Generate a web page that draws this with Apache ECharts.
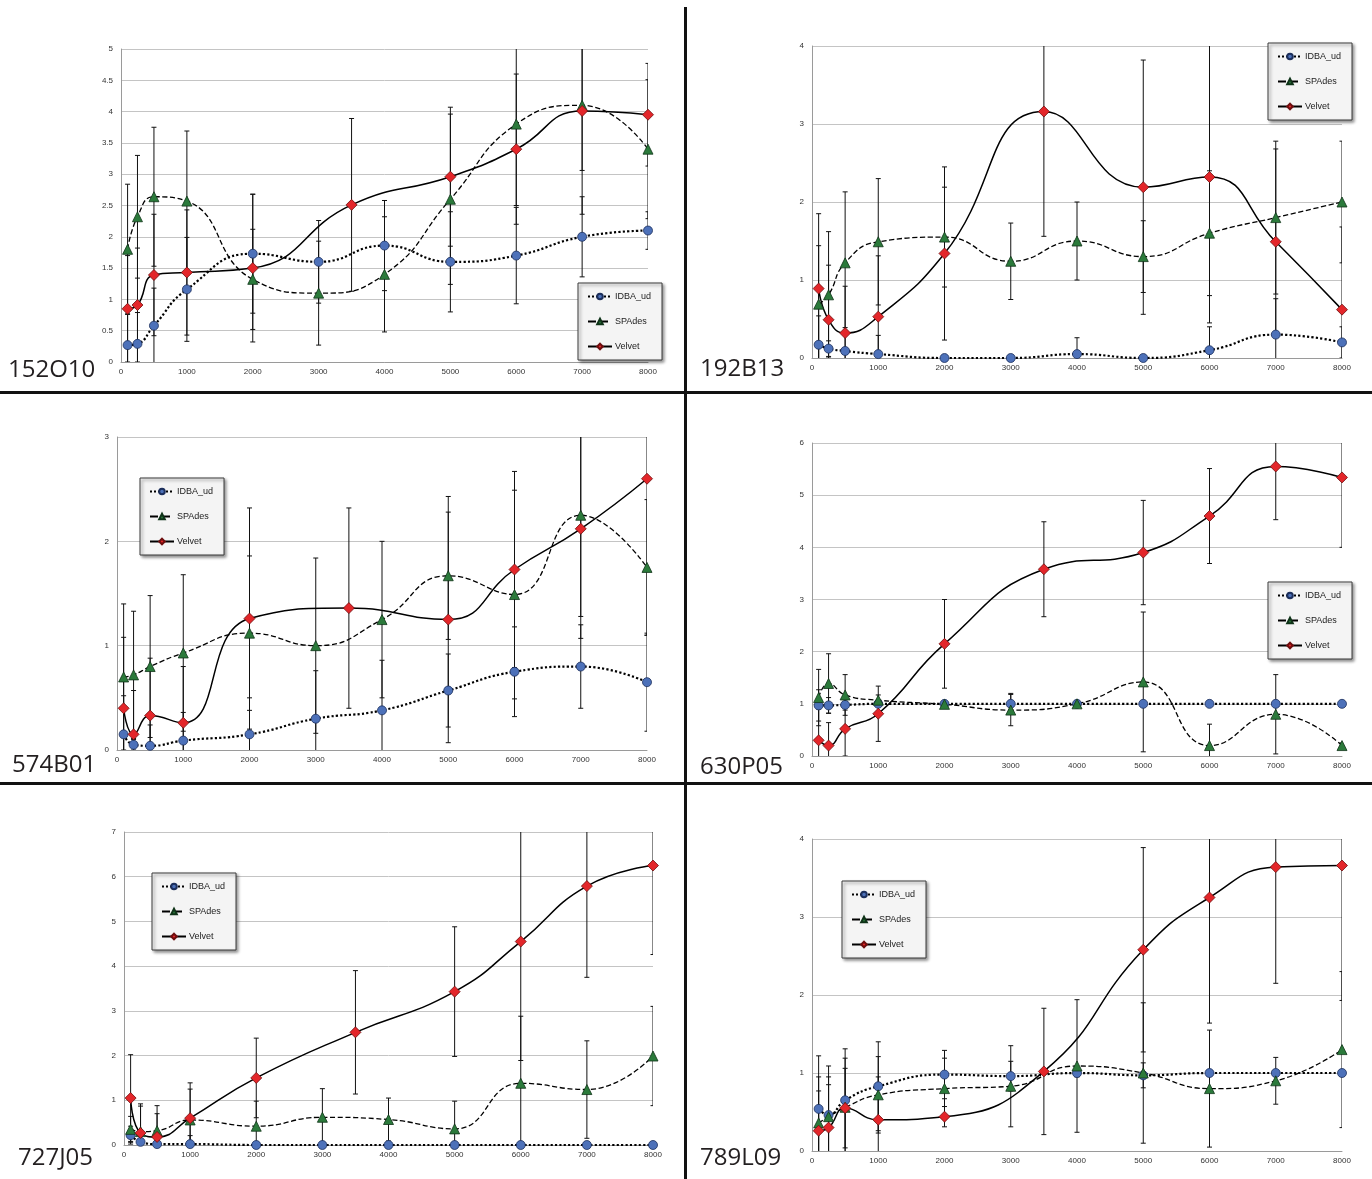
<!DOCTYPE html>
<html>
<head>
<meta charset="utf-8">
<title>Assembler comparison by read depth</title>
<script src="https://cdn.jsdelivr.net/npm/echarts@6/dist/echarts.min.js"></script>
<style>
  html, body { margin: 0; padding: 0; background: #ffffff; }
  #chart { width: 1372px; height: 1179px; }
</style>
</head>
<body>
<div id="chart"></div>
<script>
// Sampled depths (x positions). Velvet was run at 3500 instead of 3000/4000.
const depthsAB = [100, 250, 500, 1000, 2000, 3000, 4000, 5000, 6000, 7000, 8000];
const depthsVelvet = [100, 250, 500, 1000, 2000, 3500, 5000, 6000, 7000, 8000];
const seriesNames = ['IDBA_ud', 'SPAdes', 'Velvet'];

// 152O10
const idba_152O10 = [0.27, 0.29, 0.58, 1.16, 1.73, 1.60, 1.86, 1.60, 1.70, 2.00, 2.10];
const idbaErr_152O10 = [0.50, 0.50, 0.60, 0.83, 0.95, 0.66, 0.72, 0.80, 0.77, 0.64, 0.30];
const spades_152O10 = [1.80, 2.32, 2.64, 2.57, 1.32, 1.10, 1.40, 2.60, 3.80, 4.10, 3.40];
const spadesErr_152O10 = [1.04, 0.98, 1.11, 1.12, 0.80, 0.83, 0.92, 1.36, 1.30, 1.04, 1.11];
const velvet_152O10 = [0.85, 0.91, 1.39, 1.43, 1.50, 2.51, 2.96, 3.40, 4.01, 3.95];
const velvetErr_152O10 = [0.85, 0.91, 0.97, 1.00, 1.18, 1.38, 1.11, 1.20, 1.65, 0.82];

// 192B13
const idba_192B13 = [0.17, 0.12, 0.09, 0.05, 0.00, 0.00, 0.05, 0.00, 0.10, 0.30, 0.20];
const idbaErr_192B13 = [0.37, 0.10, 0.30, 0.24, 0.00, 0.00, 0.21, 0.00, 0.30, 0.46, 0.20];
const spades_192B13 = [0.69, 0.81, 1.22, 1.49, 1.55, 1.24, 1.50, 1.30, 1.60, 1.80, 2.00];
const spadesErr_192B13 = [0.75, 0.81, 0.91, 0.81, 0.64, 0.49, 0.50, 0.46, 0.80, 0.98, 0.78];
const velvet_192B13 = [0.89, 0.49, 0.32, 0.53, 1.34, 3.16, 2.19, 2.32, 1.49, 0.62];
const velvetErr_192B13 = [0.96, 0.70, 0.60, 0.78, 1.11, 1.60, 1.63, 1.87, 1.19, 1.06];

// 574B01
const idba_574B01 = [0.15, 0.05, 0.04, 0.09, 0.15, 0.30, 0.38, 0.57, 0.75, 0.80, 0.65];
const idbaErr_574B01 = [0.37, 0.05, 0.20, 0.27, 0.35, 0.46, 0.48, 0.35, 0.43, 0.40, 0.47];
const spades_574B01 = [0.70, 0.72, 0.80, 0.93, 1.12, 1.00, 1.25, 1.67, 1.49, 2.25, 1.75];
const spadesErr_574B01 = [0.70, 0.61, 0.68, 0.75, 0.74, 0.84, 0.75, 0.61, 1.00, 0.97, 0.65];
const velvet_574B01 = [0.40, 0.15, 0.33, 0.26, 1.26, 1.36, 1.25, 1.73, 2.12, 2.60];
const velvetErr_574B01 = [0.68, 0.42, 0.55, 0.54, 1.06, 0.96, 1.18, 0.94, 1.05, 1.50];

// 630P05
const idba_630P05 = [0.97, 0.97, 0.98, 1.00, 1.00, 1.00, 1.00, 1.00, 1.00, 1.00, 1.00];
const idbaErr_630P05 = [0.30, 0.15, 0.10, 0.05, 0.03, 0.20, 0.03, 0.00, 0.00, 0.00, 0.00];
const spades_630P05 = [1.12, 1.39, 1.17, 1.07, 0.99, 0.88, 1.00, 1.42, 0.20, 0.80, 0.20];
const spadesErr_630P05 = [0.54, 0.57, 0.39, 0.10, 0.05, 0.30, 0.05, 1.34, 0.41, 0.76, 0.05];
const velvet_630P05 = [0.30, 0.20, 0.52, 0.81, 2.15, 3.58, 3.90, 4.60, 5.55, 5.34];
const velvetErr_630P05 = [0.60, 0.44, 0.52, 0.53, 0.85, 0.91, 1.00, 0.91, 1.02, 1.34];

// 727J05
const idba_727J05 = [0.22, 0.07, 0.02, 0.02, 0.00, 0.00, 0.00, 0.00, 0.00, 0.00, 0.00];
const idbaErr_727J05 = [0.20, 0.05, 0.02, 0.19, 0.00, 0.00, 0.00, 0.00, 0.00, 0.00, 0.00];
const spades_727J05 = [0.35, 0.30, 0.32, 0.56, 0.42, 0.62, 0.57, 0.36, 1.38, 1.24, 1.99];
const spadesErr_727J05 = [0.29, 0.57, 0.56, 0.69, 0.56, 0.64, 0.48, 0.62, 1.50, 1.09, 1.11];
const velvet_727J05 = [1.05, 0.27, 0.18, 0.60, 1.50, 2.52, 3.43, 4.55, 5.79, 6.25];
const velvetErr_727J05 = [0.97, 0.65, 0.52, 0.79, 0.89, 1.38, 1.45, 2.66, 2.04, 1.99];

// 789L09
const idba_789L09 = [0.54, 0.46, 0.65, 0.83, 0.98, 0.96, 1.00, 0.97, 1.00, 1.00, 1.00];
const idbaErr_789L09 = [0.68, 0.63, 0.66, 0.57, 0.31, 0.19, 0.05, 0.16, 0.00, 0.00, 0.00];
const spades_789L09 = [0.36, 0.44, 0.56, 0.72, 0.80, 0.83, 1.09, 1.00, 0.80, 0.90, 1.30];
const spadesErr_789L09 = [0.59, 0.51, 0.63, 0.49, 0.39, 0.52, 0.85, 0.90, 0.75, 0.30, 1.00];
const velvet_789L09 = [0.26, 0.30, 0.55, 0.40, 0.44, 1.02, 2.58, 3.25, 3.64, 3.66];
const velvetErr_789L09 = [0.51, 0.55, 0.51, 0.55, 0.13, 0.81, 1.31, 1.61, 1.49, 1.73];

// Panel layout: plot rectangle, y range, caption and legend placement.
const panels = [
  { name: '152O10', grid: [121, 49, 527, 313], yMax: 5, yStep: 0.5, label: [8, 370], legend: [578, 283],
    idba: idba_152O10, idbaErr: idbaErr_152O10, spades: spades_152O10, spadesErr: spadesErr_152O10, velvet: velvet_152O10, velvetErr: velvetErr_152O10 },
  { name: '192B13', grid: [812, 46, 530, 312], yMax: 4, yStep: 1, label: [700, 369], legend: [1268, 43],
    idba: idba_192B13, idbaErr: idbaErr_192B13, spades: spades_192B13, spadesErr: spadesErr_192B13, velvet: velvet_192B13, velvetErr: velvetErr_192B13 },
  { name: '574B01', grid: [117, 437, 530, 313], yMax: 3, yStep: 1, label: [12, 765], legend: [140, 478],
    idba: idba_574B01, idbaErr: idbaErr_574B01, spades: spades_574B01, spadesErr: spadesErr_574B01, velvet: velvet_574B01, velvetErr: velvetErr_574B01 },
  { name: '630P05', grid: [812, 443, 530, 313], yMax: 6, yStep: 1, label: [700, 767], legend: [1268, 582],
    idba: idba_630P05, idbaErr: idbaErr_630P05, spades: spades_630P05, spadesErr: spadesErr_630P05, velvet: velvet_630P05, velvetErr: velvetErr_630P05 },
  { name: '727J05', grid: [124, 832, 529, 313], yMax: 7, yStep: 1, label: [18, 1158], legend: [152, 873],
    idba: idba_727J05, idbaErr: idbaErr_727J05, spades: spades_727J05, spadesErr: spadesErr_727J05, velvet: velvet_727J05, velvetErr: velvetErr_727J05 },
  { name: '789L09', grid: [812, 839, 530, 312], yMax: 4, yStep: 1, label: [700, 1158], legend: [842, 881],
    idba: idba_789L09, idbaErr: idbaErr_789L09, spades: spades_789L09, spadesErr: spadesErr_789L09, velvet: velvet_789L09, velvetErr: velvetErr_789L09 }
];

const styles = {
  IDBA_ud: { symbol: 'circle', size: 9, fill: '#4d71b9', border: '#1c2f5c', dash: 'dotted', width: 2.2 },
  SPAdes: { symbol: 'triangle', size: 10, fill: '#2b7a3b', border: '#0f3318', dash: 'dashed', width: 1.3 },
  Velvet: { symbol: 'diamond', size: 11, fill: '#e3262a', border: '#6e0e0e', dash: 'solid', width: 1.5 }
};

const axisFont = '"Liberation Sans", Arial, sans-serif';

// Vertical error bar with short caps, clipped to the plot.
function renderErrorBar(params, api) {
  const x = api.value(0), v = api.value(1), e = api.value(2);
  if (!e) return null;
  const hi = api.coord([x, v + e]);
  const lo = api.coord([x, v - e]);
  const cap = 2.5;
  const st = { stroke: '#111', lineWidth: 1 };
  return {
    type: 'group',
    children: [
      { type: 'line', shape: { x1: hi[0], y1: hi[1], x2: lo[0], y2: lo[1] }, style: st },
      { type: 'line', shape: { x1: hi[0] - cap, y1: hi[1], x2: hi[0] + cap, y2: hi[1] }, style: st },
      { type: 'line', shape: { x1: lo[0] - cap, y1: lo[1], x2: lo[0] + cap, y2: lo[1] }, style: st }
    ]
  };
}

const plainNumber = v => String(v);

const grid = [], xAxis = [], yAxis = [], series = [], legend = [], graphic = [];

panels.forEach((p, i) => {
  grid.push({ left: p.grid[0], top: p.grid[1], width: p.grid[2], height: p.grid[3], containLabel: false });
  xAxis.push({
    type: 'value', gridIndex: i, min: 0, max: 8000, interval: 1000,
    axisLine: { show: true, lineStyle: { color: '#9a9a9a', width: 1 } },
    axisTick: { show: false },
    splitLine: { show: false },
    axisLabel: { fontSize: 8, color: '#333', margin: 6, fontFamily: axisFont, formatter: plainNumber }
  });
  yAxis.push({
    type: 'value', gridIndex: i, min: 0, max: p.yMax, interval: p.yStep,
    axisLine: { show: true, lineStyle: { color: '#9a9a9a', width: 1 } },
    axisTick: { show: false },
    splitLine: { show: true, lineStyle: { color: '#c4c4c4', width: 1 } },
    axisLabel: { fontSize: 8, color: '#333', margin: 8, fontFamily: axisFont, formatter: plainNumber }
  });

  const sets = [
    ['IDBA_ud', depthsAB, p.idba, p.idbaErr],
    ['SPAdes', depthsAB, p.spades, p.spadesErr],
    ['Velvet', depthsVelvet, p.velvet, p.velvetErr]
  ];

  sets.forEach(([name, xs, vals, errs]) => {
    series.push({
      type: 'custom', name: name + ' error', xAxisIndex: i, yAxisIndex: i,
      renderItem: renderErrorBar, clip: true, z: 1, silent: true,
      encode: { x: 0, y: 1 },
      data: xs.map((x, k) => [x, vals[k], errs[k]])
    });
  });

  sets.forEach(([name, xs, vals]) => {
    const s = styles[name];
    series.push({
      type: 'line', name: name, xAxisIndex: i, yAxisIndex: i,
      smooth: 0.5, z: 3,
      symbol: s.symbol, symbolSize: s.size,
      itemStyle: { color: s.fill, borderColor: s.border, borderWidth: 0.8 },
      lineStyle: { color: '#000', type: s.dash, width: s.width },
      data: xs.map((x, k) => [x, vals[k]])
    });
  });

  legend.push({
    data: seriesNames, orient: 'vertical', left: p.legend[0], top: p.legend[1],
    itemWidth: 24, itemHeight: 7, itemGap: 16,
    padding: [9, 11, 9, 9],
    backgroundColor: '#f4f4f4', borderColor: '#3a3a3a', borderWidth: 1,
    shadowColor: 'rgba(0,0,0,0.45)', shadowBlur: 3, shadowOffsetX: 2, shadowOffsetY: 2,
    textStyle: { fontSize: 9, color: '#222', fontFamily: axisFont, padding: [0, 0, 0, -2] },
    selectedMode: false
  });

  graphic.push({
    type: 'text', x: p.label[0], y: p.label[1], silent: true,
    style: { text: p.name, font: '24px "Open Sans"', fill: '#231f20', verticalAlign: 'middle' }
  });
});

// Panel dividers
graphic.push(
  { type: 'rect', shape: { x: 684, y: 7, width: 3, height: 1172 }, style: { fill: '#111' }, silent: true },
  { type: 'rect', shape: { x: 0, y: 391, width: 1372, height: 3 }, style: { fill: '#111' }, silent: true },
  { type: 'rect', shape: { x: 0, y: 782, width: 1372, height: 3 }, style: { fill: '#111' }, silent: true }
);

const chart = echarts.init(document.getElementById('chart'), null, { renderer: 'canvas' });
chart.setOption({
  animation: false,
  backgroundColor: '#ffffff',
  grid, xAxis, yAxis, series, legend, graphic
});
</script>
</body>
</html>
